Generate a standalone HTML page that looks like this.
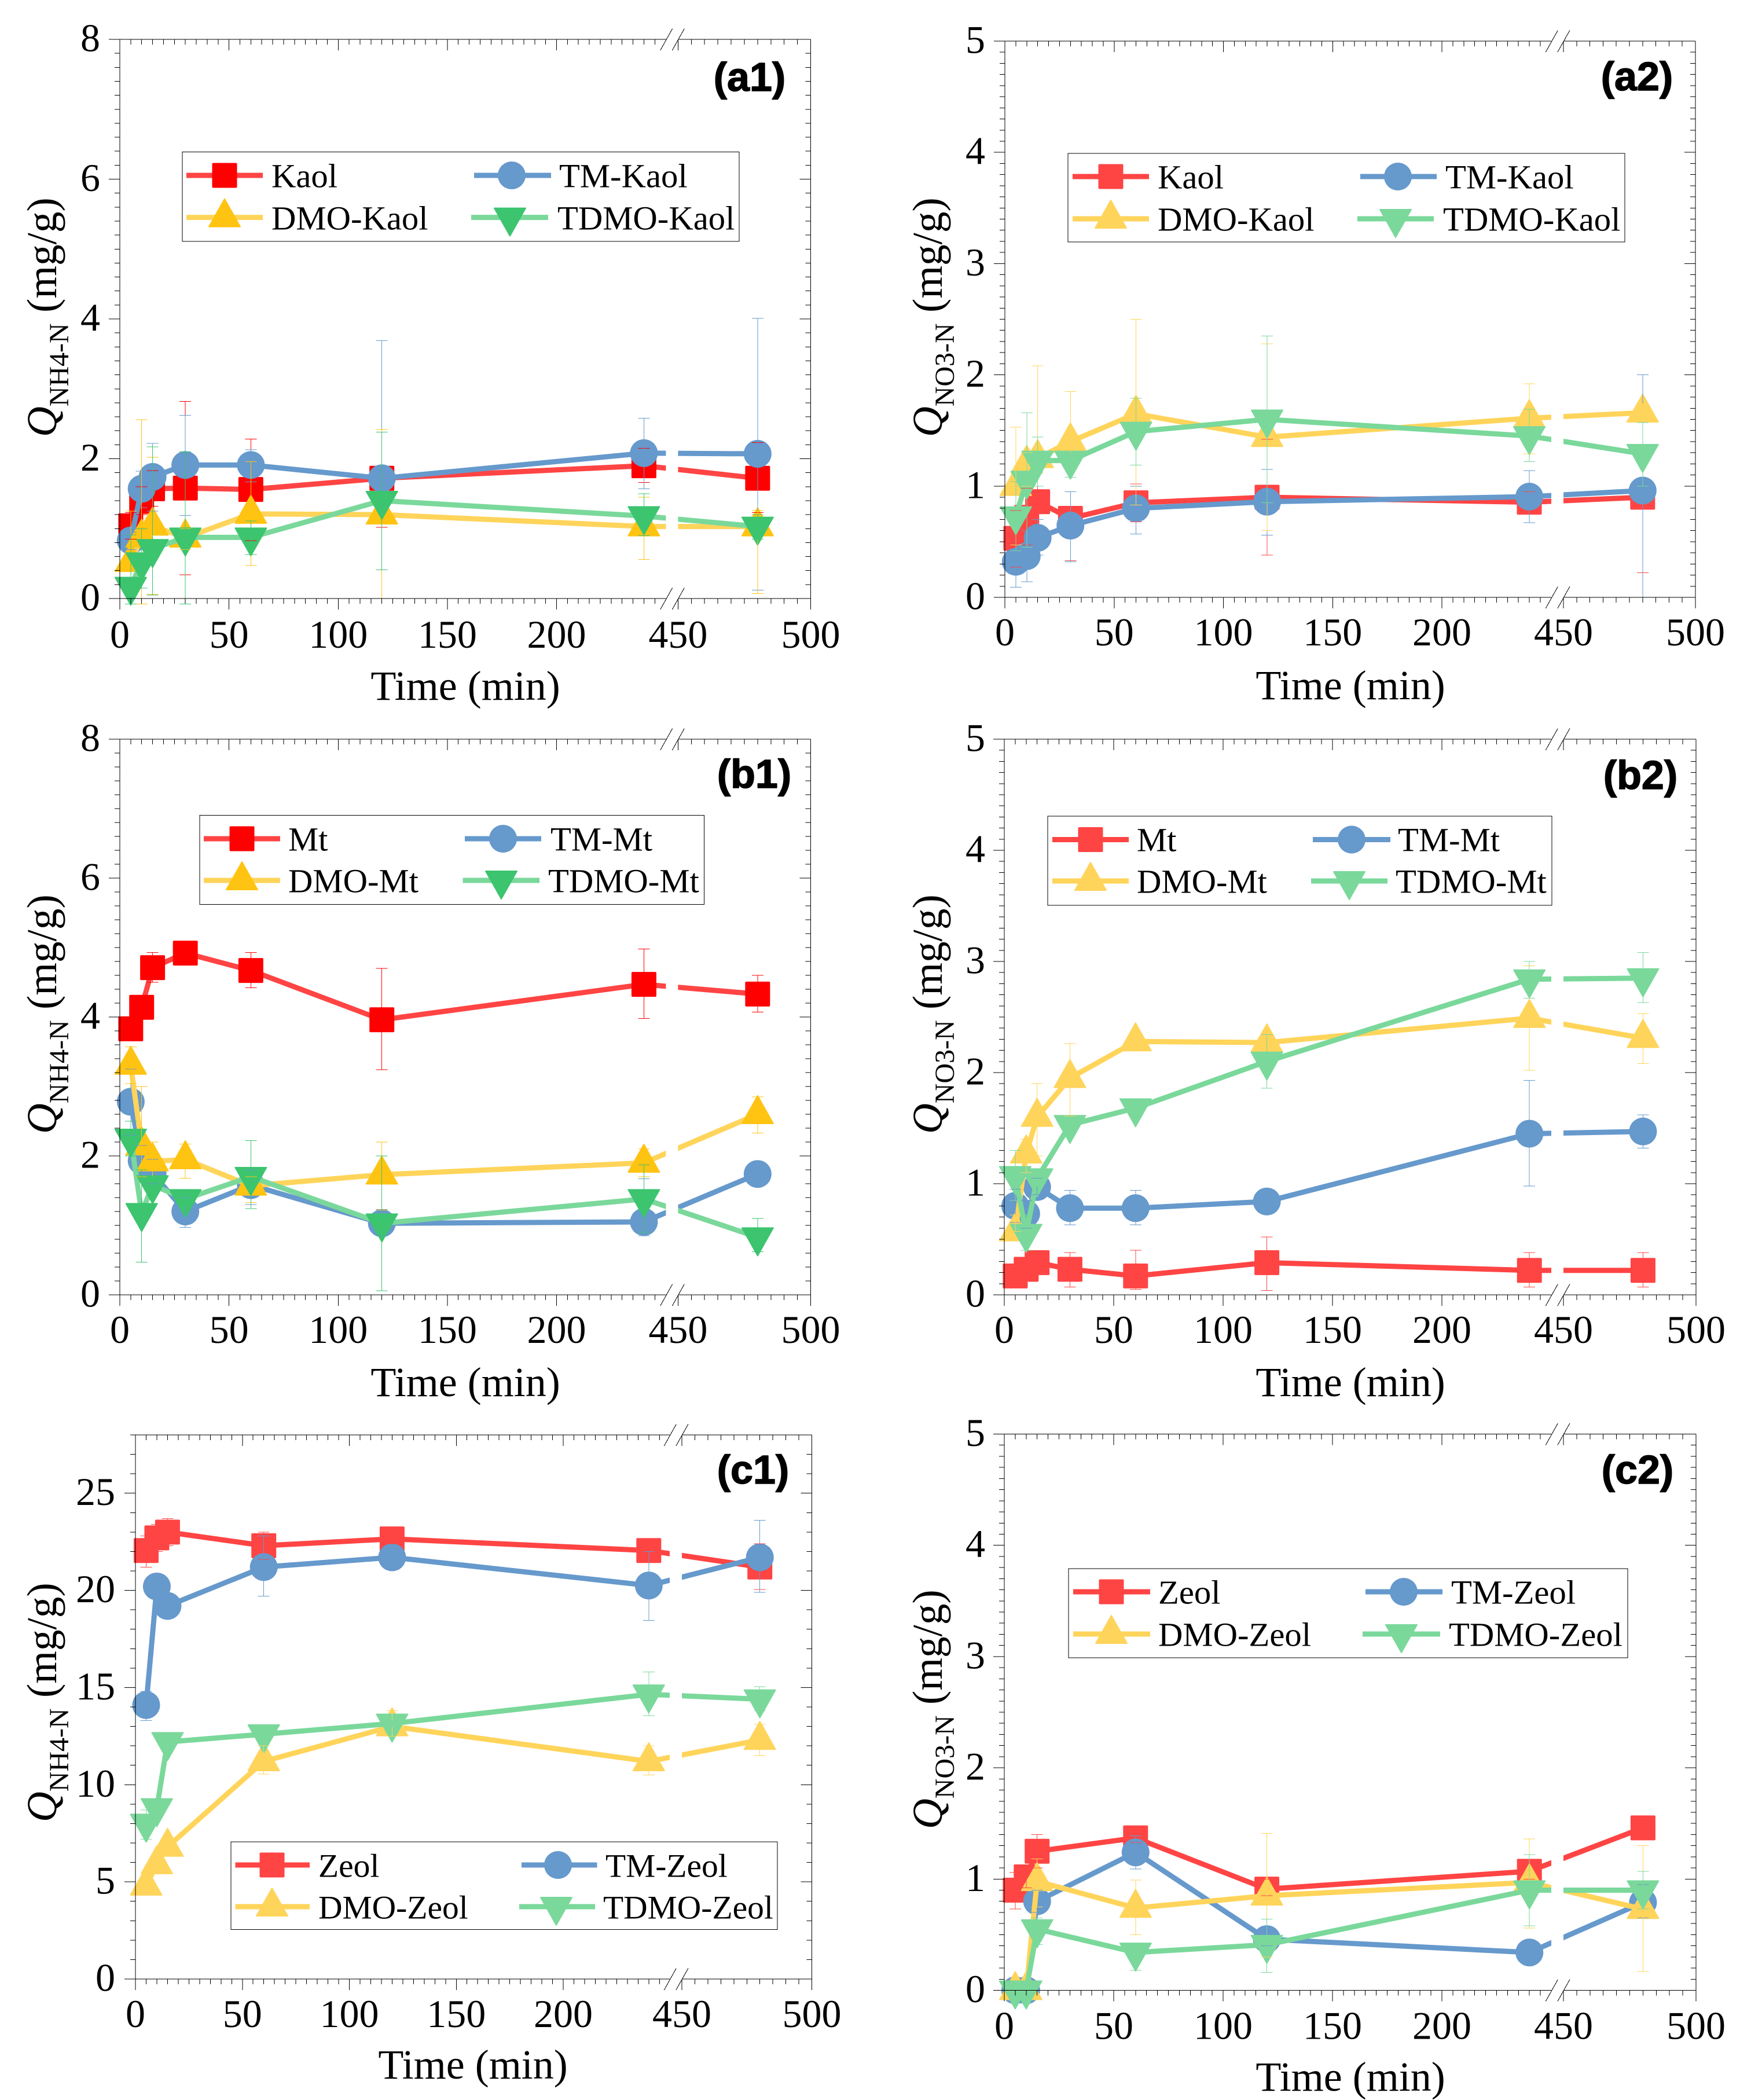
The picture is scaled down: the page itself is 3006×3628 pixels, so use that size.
<!DOCTYPE html>
<html lang="en">
<head>
<meta charset="utf-8">
<title>Adsorption kinetics panels</title>
<style>
html,body{margin:0;padding:0;background:#fff;}
svg{display:block;}
text{font-family:"Liberation Serif",serif;fill:#000;}
.tick{font-size:68px;}
.xt{font-size:72px;text-anchor:middle;transform:translateY(2px);}
.yt{font-size:73px;}
.sub{font-size:48px;}
.lg{font-size:58.7px;transform:translateY(1.5px);}
.lgc{font-size:57.5px;transform:translateY(1.5px);}
.pl{font-family:"Liberation Sans",sans-serif;font-weight:bold;font-size:70px;text-anchor:middle;stroke:#000;stroke-width:1.5px;stroke-linejoin:round;}
</style>
</head>
<body>
<svg id="figure" xmlns="http://www.w3.org/2000/svg" width="3006" height="3628" viewBox="0 0 3006 3628">
<rect width="3006" height="3628" fill="#fff"/>
<g id="marks"></g>

<g>
<text class="pl" x="1295" y="157">(a1)</text>
<text class="xt" x="804" y="1207">Time (min)</text>
<text class="yt" transform="translate(97,755) rotate(-90)"><tspan font-style="italic">Q</tspan><tspan class="sub" dy="21">NH4-N</tspan><tspan dy="-21"> (mg/g)</tspan></text>
<text class="lg" x="469" y="322">Kaol</text>
<text class="lg" x="966" y="322">TM-Kaol</text>
<text class="lg" x="469" y="395">DMO-Kaol</text>
<text class="lg" x="963" y="395">TDMO-Kaol</text>
</g>

<g>
<text class="pl" x="2828" y="156">(a2)</text>
<text class="xt" x="2333" y="1206">Time (min)</text>
<text class="yt" transform="translate(1627,755) rotate(-90)"><tspan font-style="italic">Q</tspan><tspan class="sub" dy="21">NO3-N</tspan><tspan dy="-21"> (mg/g)</tspan></text>
<text class="lg" x="2000" y="324">Kaol</text>
<text class="lg" x="2497" y="324">TM-Kaol</text>
<text class="lg" x="2000" y="397">DMO-Kaol</text>
<text class="lg" x="2493" y="397">TDMO-Kaol</text>
</g>

<g>
<text class="pl" x="1303" y="1361">(b1)</text>
<text class="xt" x="804" y="2410">Time (min)</text>
<text class="yt" transform="translate(97,1959) rotate(-90)"><tspan font-style="italic">Q</tspan><tspan class="sub" dy="21">NH4-N</tspan><tspan dy="-21"> (mg/g)</tspan></text>
<text class="lg" x="498" y="1468">Mt</text>
<text class="lg" x="951" y="1468">TM-Mt</text>
<text class="lg" x="498" y="1540">DMO-Mt</text>
<text class="lg" x="947" y="1540">TDMO-Mt</text>
</g>

<g>
<text class="pl" x="2834" y="1363">(b2)</text>
<text class="xt" x="2333" y="2410">Time (min)</text>
<text class="yt" transform="translate(1627,1959) rotate(-90)"><tspan font-style="italic">Q</tspan><tspan class="sub" dy="21">NO3-N</tspan><tspan dy="-21"> (mg/g)</tspan></text>
<text class="lg" x="1964" y="1469">Mt</text>
<text class="lg" x="2415" y="1469">TM-Mt</text>
<text class="lg" x="1964" y="1541">DMO-Mt</text>
<text class="lg" x="2411" y="1541">TDMO-Mt</text>
</g>

<g>
<text class="pl" x="1301" y="2563">(c1)</text>
<text class="xt" x="817" y="3589">Time (min)</text>
<text class="yt" transform="translate(97,3148) rotate(-90)"><tspan font-style="italic">Q</tspan><tspan class="sub" dy="21">NH4-N</tspan><tspan dy="-21"> (mg/g)</tspan></text>
<text class="lgc" x="550" y="3241">Zeol</text>
<text class="lgc" x="1046" y="3241">TM-Zeol</text>
<text class="lgc" x="550" y="3313">DMO-Zeol</text>
<text class="lgc" x="1042" y="3313">TDMO-Zeol</text>
</g>

<g>
<text class="pl" x="2829" y="2563">(c2)</text>
<text class="xt" x="2333" y="3610">Time (min)</text>
<text class="yt" transform="translate(1627,3160) rotate(-90)"><tspan font-style="italic">Q</tspan><tspan class="sub" dy="21">NO3-N</tspan><tspan dy="-21"> (mg/g)</tspan></text>
<text class="lg" x="2001" y="2769">Zeol</text>
<text class="lg" x="2507" y="2769">TM-Zeol</text>
<text class="lg" x="2001" y="2842">DMO-Zeol</text>
<text class="lg" x="2503" y="2842">TDMO-Zeol</text>
</g>
</svg>

<script>
// ---------- categories and tick labels ----------
const timesAB = [5,10,15,30,60,120,240,480];
const timesC = [5,10,15,60,120,240,480];
const xTickLabels = [0,50,100,150,200,450,500];
const yTicksNH4 = [0,2,4,6,8];
const yTicksNO3 = [0,1,2,3,4,5];
const yTicksC1 = [0,5,10,15,20,25];

// ---------- a1 ----------
const a1Kaol = [1.04,1.39,1.57,1.58,1.56,1.72,1.9,1.72];
const a1KaolHi = [1.23,1.6,1.83,2.82,2.28,2.42,2.15,2.23];
const a1KaolLo = [0.85,1.2,1.32,0.34,0.83,1.02,1.66,1.23];
const a1TM = [0.83,1.57,1.74,1.91,1.91,1.72,2.08,2.07];
const a1TMHi = [0.95,1.82,2.22,2.62,2.13,3.69,2.58,4.01];
const a1TMLo = [0.7,1.3,1.25,1.19,1.67,0,1.57,0.12];
const a1DMO = [0.52,0.87,1.04,0.87,1.21,1.2,1.03,1.03];
const a1DMOHi = [1.25,2.56,2.02,1.0,1.96,2.42,1.45,1.26];
const a1DMOLo = [-0.08,-0.08,0.06,0.7,0.47,0,0.56,0.07];
const a1TDMO = [0.17,0.52,0.71,0.875,0.875,1.4,1.18,1.03];
const a1TDMOHi = [0.91,1.0,2.17,2.1,1.11,2.38,1.5,1.2];
const a1TDMOLo = [-0.08,0.15,0.05,-0.08,0.63,0.41,0.9,0.85];

// ---------- a2 ----------
const a2Kaol = [0.53,0.72,0.86,0.71,0.85,0.9,0.855,0.9];
const a2KaolHi = [0.78,0.98,1.0,0.95,1.02,1.42,0.95,1.58];
const a2KaolLo = [0.27,0.47,0.7,0.33,0.68,0.38,0.78,0.22];
const a2TM = [0.32,0.37,0.535,0.645,0.8,0.86,0.905,0.96];
const a2TMHi = [0.47,0.6,0.7,0.95,1.0,1.15,1.14,2.0];
const a2TMLo = [0.09,0.14,0.38,0.32,0.57,0.56,0.67,0];
const a2DMO = [1.0,1.2,1.25,1.4,1.65,1.44,1.61,1.66];
const a2DMOHi = [1.53,1.3,2.08,1.85,2.5,2.28,1.92,1.74];
const a2DMOLo = [0.47,1.0,1.0,1.08,0.83,0.6,1.29,1.58];
const a2TDMO = [0.73,1.05,1.23,1.23,1.49,1.6,1.45,1.29];
const a2TDMOHi = [1.04,1.66,1.44,1.3,1.79,2.35,1.69,1.57];
const a2TDMOLo = [0.42,0.45,1.0,1.08,1.19,0.85,1.22,1.0];

// ---------- b1 ----------
const b1Mt = [3.83,4.14,4.71,4.92,4.67,3.96,4.47,4.33];
const b1MtHi = [3.93,4.3,4.93,5.0,4.93,4.7,4.98,4.6];
const b1MtLo = [3.73,4.0,4.5,4.8,4.42,3.24,3.98,4.07];
const b1TM = [2.78,1.93,1.75,1.2,1.58,1.03,1.05,1.74];
const b1TMHi = [3.25,2.15,1.95,1.4,1.8,1.23,1.67,1.85];
const b1TMLo = [2.3,1.7,1.6,0.97,1.3,0.85,0.85,1.6];
const b1DMO = [3.31,2.15,1.92,1.95,1.57,1.73,1.9,2.6];
const b1DMOHi = [3.57,3.0,2.2,2.17,1.7,2.2,2.1,2.85];
const b1DMOLo = [3.04,1.7,1.7,1.68,1.33,1.22,1.7,2.33];
const b1TDMO = [2.25,1.18,1.58,1.38,1.7,1.03,1.38,0.83];
const b1TDMOHi = [2.5,1.8,1.7,1.5,2.22,2.0,1.87,1.1];
const b1TDMOLo = [2.0,0.47,1.45,1.28,1.24,0.06,0.9,0.62];

// ---------- b2 ----------
const b2Mt = [0.17,0.23,0.29,0.23,0.17,0.29,0.22,0.22];
const b2MtHi = [0.25,0.3,0.35,0.38,0.4,0.52,0.38,0.38];
const b2MtLo = [0.1,0.15,0.22,0.07,0.05,0.04,0.07,0.07];
const b2TM = [0.8,0.73,0.97,0.78,0.78,0.84,1.45,1.47];
const b2TMHi = [0.95,0.85,1.05,0.94,0.94,0.9,1.93,1.62];
const b2TMLo = [0.65,0.6,0.9,0.63,0.63,0.78,0.98,1.32];
const b2DMO = [0.57,1.27,1.6,1.95,2.28,2.27,2.49,2.31];
const b2DMOHi = [0.72,1.4,1.9,2.26,2.35,2.35,2.96,2.53];
const b2DMOLo = [0.57,1.1,1.25,1.61,2.2,2.2,2.02,2.08];
const b2TDMO = [1.07,0.55,1.05,1.53,1.68,2.1,2.84,2.85];
const b2TDMOHi = [1.3,0.72,1.12,1.6,1.75,2.34,3.0,3.08];
const b2TDMOLo = [0.85,0.4,0.98,1.45,1.6,1.86,2.67,2.63];

// ---------- c1 ----------
const c1Zeol = [22.05,22.7,23.0,22.3,22.65,22.05,21.2];
const c1ZeolHi = [22.8,23.4,23.7,23.0,22.9,22.3,22.4];
const c1ZeolLo = [21.2,22.0,22.3,21.6,22.4,21.8,20.05];
const c1TM = [14.1,20.2,19.2,21.2,21.7,20.25,21.7];
const c1TMHi = [14.8,20.5,19.5,22.8,21.9,22.0,23.6];
const c1TMLo = [13.3,19.9,18.9,19.7,21.5,18.45,19.9];
const c1DMO = [4.8,5.9,6.8,11.2,13.0,11.2,12.3];
const c1DMOHi = [5.0,6.1,7.0,12.0,13.8,12.0,13.1];
const c1DMOLo = [4.6,5.7,6.6,10.55,12.5,10.5,11.5];
const c1TDMO = [8.0,8.8,12.2,12.6,13.15,14.65,14.4];
const c1TDMOHi = [8.7,9.0,12.4,12.8,13.3,15.8,15.05];
const c1TDMOLo = [7.2,8.6,12.0,12.4,13.0,13.55,13.8];

// ---------- c2 ----------
const c2Zeol = [0.9,1.02,1.25,1.37,0.91,1.07,1.46];
const c2ZeolHi = [1.06,1.12,1.4,1.4,1.0,1.22,1.5];
const c2ZeolLo = [0.73,0.92,1.1,1.33,0.85,1.0,1.42];
const c2TM = [0,0,0.8,1.24,0.46,0.34,0.79];
const c2TMHi = [0,0,0.9,1.39,0.55,0.38,0.95];
const c2TMLo = [0,0,0.7,1.09,0.4,0.3,0.65];
const c2DMO = [0,0,0.98,0.74,0.85,0.97,0.73];
const c2DMOHi = [0,0,1.18,0.99,1.41,1.36,1.3];
const c2DMOLo = [0,0,0.75,0.5,0.3,0.56,0.17];
const c2TDMO = [0,0,0.55,0.34,0.41,0.9,0.9];
const c2TDMOHi = [0,0,0.65,0.38,0.64,1.22,1.07];
const c2TDMOLo = [0,0,0.41,0.18,0.16,0.58,0.73];

// ---------- styles ----------
const LINE = {red:'#FF4444',blue:'#6699CC',yellow:'#FFD45A',green:'#7AD89B'};
const DARK = {red:'#FF0000',blue:'#6699CC',yellow:'#FFC312',green:'#3CC46F'};
const KINDS = ['square','circle','up','down'];
const COLS = ['red','blue','yellow','green'];
const THIN = 1;

const panels = [
 {id:'a1',L:207,R:1400.5,x200:961.5,x450:1171.4,T:68,B:1034,yMax:8,minor:0.2,ticks:yTicksNH4,labX:173,lblDy:85,dark:true,times:timesAB,
  names:['Kaol','TM-Kaol','DMO-Kaol','TDMO-Kaol'],
  v:[a1Kaol,a1TM,a1DMO,a1TDMO],hi:[a1KaolHi,a1TMHi,a1DMOHi,a1TDMOHi],lo:[a1KaolLo,a1TMLo,a1DMOLo,a1TDMOLo],
  lg:{l:315,r:1277,t:262.5,b:417,y1:303,y2:375.6,c1:[322,454,388],c2a:[819,952,884],c2b:[814,947,881]}},
 {id:'a2',L:1736,R:2929,x200:2491,x450:2701,T:71,B:1032,yMax:5,minor:0.1,ticks:yTicksNO3,labX:1702,lblDy:83,dark:false,times:timesAB,
  names:['Kaol','TM-Kaol','DMO-Kaol','TDMO-Kaol'],
  v:[a2Kaol,a2TM,a2DMO,a2TDMO],hi:[a2KaolHi,a2TMHi,a2DMOHi,a2TDMOHi],lo:[a2KaolLo,a2TMLo,a2DMOLo,a2TDMOLo],
  lg:{l:1845,r:2807,t:265,b:418,y1:305,y2:378,c1:[1853,1985,1919],c2a:[2350,2482,2415],c2b:[2345,2477,2411]}},
 {id:'b1',L:207,R:1400.5,x200:961.5,x450:1171.4,T:1277,B:2237,yMax:8,minor:0.2,ticks:yTicksNH4,labX:173,lblDy:83,dark:true,times:timesAB,
  names:['Mt','TM-Mt','DMO-Mt','TDMO-Mt'],
  v:[b1Mt,b1TM,b1DMO,b1TDMO],hi:[b1MtHi,b1TMHi,b1DMOHi,b1TDMOHi],lo:[b1MtLo,b1TMLo,b1DMOLo,b1TDMOLo],
  lg:{l:345,r:1216.5,t:1408.5,b:1562.6,y1:1449,y2:1521,c1:[352,484,418],c2a:[803,935,869],c2b:[799.5,932,866]}},
 {id:'b2',L:1735,R:2930,x200:2491,x450:2701,T:1277,B:2237,yMax:5,minor:0.1,ticks:yTicksNO3,labX:1702,lblDy:83,dark:false,times:timesAB,
  names:['Mt','TM-Mt','DMO-Mt','TDMO-Mt'],
  v:[b2Mt,b2TM,b2DMO,b2TDMO],hi:[b2MtHi,b2TMHi,b2DMOHi,b2TDMOHi],lo:[b2MtLo,b2TMLo,b2DMOLo,b2TDMOLo],
  lg:{l:1810,r:2681,t:1410,b:1564,y1:1450.5,y2:1522,c1:[1818,1950,1884],c2a:[2268,2402,2335],c2b:[2265,2397,2331]}},
 {id:'c1',L:234,R:1402.5,x200:973,x450:1178,T:2479,B:3419,yMax:28,minor:1,ticks:yTicksC1,labX:199,lblDy:83,dark:false,times:timesC,
  names:['Zeol','TM-Zeol','DMO-Zeol','TDMO-Zeol'],
  v:[c1Zeol,c1TM,c1DMO,c1TDMO],hi:[c1ZeolHi,c1TMHi,c1DMOHi,c1TDMOHi],lo:[c1ZeolLo,c1TMLo,c1DMOLo,c1TDMOLo],
  lg:{l:399,r:1343,t:3182,b:3333.5,y1:3222,y2:3294,c1:[406.5,535,470],c2a:[901,1031.5,964],c2b:[897,1028,961]}},
 {id:'c2',L:1735,R:2930,x200:2491,x450:2701,T:2477.5,B:3438.5,yMax:5,minor:0.1,ticks:yTicksNO3,labX:1702,lblDy:84,dark:false,times:timesC,
  names:['Zeol','TM-Zeol','DMO-Zeol','TDMO-Zeol'],
  v:[c2Zeol,c2TM,c2DMO,c2TDMO],hi:[c2ZeolHi,c2TMHi,c2DMOHi,c2TDMOHi],lo:[c2ZeolLo,c2TMLo,c2DMOLo,c2TDMOLo],
  lg:{l:1846,r:2812,t:2710,b:2864,y1:2750,y2:2823,c1:[1854,1987,1920],c2a:[2359,2492,2425],c2b:[2354,2488,2421]}}
];

const NS = 'http://www.w3.org/2000/svg';
const root = document.getElementById('marks');
function make(tag, attrs, parent){
  const el = document.createElementNS(NS, tag);
  for (const k in attrs) el.setAttribute(k, attrs[k]);
  parent.appendChild(el);
  return el;
}
function line(parent, x1, y1, x2, y2, stroke, w, name){
  const el = make('line', {x1:x1,y1:y1,x2:x2,y2:y2,stroke:stroke,'stroke-width':w,'shape-rendering':w === THIN ? 'crispEdges' : 'auto'}, parent);
  
  
  return el;
}
function marker(parent, kind, cx, cy, fill, name){
  let el;
  if (kind === 'square') {
    el = make('rect', {x:cx-20.5,y:cy-20.5,width:41,height:41,rx:1,fill:fill,stroke:fill,'stroke-width':2,'stroke-linejoin':'round'}, parent);
  } else if (kind === 'circle') {
    el = make('circle', {cx:cx,cy:cy,r:24,fill:fill}, parent);
  } else if (kind === 'up') {
    el = make('polygon', {points:[[cx,cy-32],[cx+27,cy+16],[cx-27,cy+16]].join(' '),fill:fill,stroke:fill,'stroke-width':2,'stroke-linejoin':'round'}, parent);
  } else {
    el = make('polygon', {points:[[cx,cy+32],[cx+27,cy-16],[cx-27,cy-16]].join(' '),fill:fill,stroke:fill,'stroke-width':2,'stroke-linejoin':'round'}, parent);
  }
  
  
  return el;
}

panels.forEach(function(p){
  const s1 = (p.x200 - p.L) / 200;
  const s2 = (p.R - p.x450) / 50;
  const xOf = function(t){ return t <= 250 ? p.L + t * s1 : p.x450 + (t - 450) * s2; };
  const yOf = function(v){ return p.B - (v / p.yMax) * (p.B - p.T); };
  const palette = p.dark ? DARK : LINE;

  const g = make('g', {}, root);
  
  

  // series lines and markers
  p.v.forEach(function(vals, i){
    const col = COLS[i];
    const sg = make('g', {}, g);
    
    
    const pl = make('polyline', {points:vals.map(function(v,k){return xOf(p.times[k])+','+yOf(v);}).join(' '),fill:'none',stroke:LINE[col],'stroke-width':9,'stroke-linejoin':'round'}, sg);
    
    
    vals.forEach(function(v,k){
      marker(sg, KINDS[i], xOf(p.times[k]), yOf(v), palette[col], 'point-' + p.id + '-' + p.names[i].toLowerCase() + '-' + p.times[k]);
    });
  });

  // error bars on top of the markers
  p.v.forEach(function(vals, i){
    const col = palette[COLS[i]];
    vals.forEach(function(v,k){
      const h = p.hi[i][k], l = p.lo[i][k];
      if (h === l) return;
      const x = xOf(p.times[k]);
      const eg = make('g', {}, g);
      
      
      line(eg, x, yOf(h), x, yOf(l), col, THIN, 'error-stem');
      line(eg, x-10, yOf(h), x+10, yOf(h), col, THIN, 'error-cap-high');
      line(eg, x-10, yOf(l), x+10, yOf(l), col, THIN, 'error-cap-low');
    });
  });

  // white gap at the axis break
  const gap = make('rect', {x:p.x450-21,y:p.T-1,width:21,height:p.B-p.T+2,fill:'#fff'}, g);
  
  

  // axes
  const ax = make('g', {}, g);
  
  
  const K = '#000';
  line(ax, p.L, p.T, p.L, p.B, K, THIN, 'y-axis-left');
  line(ax, p.R, p.T, p.R, p.B, K, THIN, 'y-axis-right');
  [p.T, p.B].forEach(function(y){
    const nm = y === p.T ? 'x-axis-top' : 'x-axis-bottom';
    line(ax, p.L, y, p.x450-21, y, K, THIN, nm + '-lower');
    line(ax, p.x450, y, p.R, y, K, THIN, nm + '-upper');
    line(ax, p.x450-30.7, y+19, p.x450-9.7, y-18.5, K, THIN, 'axis-break-slash');
    line(ax, p.x450-10.1, y+19, p.x450+10.9, y-18.5, K, THIN, 'axis-break-slash');
  });
  // x ticks
  const xTick = function(t){
    const major = t % 50 === 0;
    const len = major ? 19 : 9;
    const x = xOf(t);
    line(ax, x, p.B, x, p.B+len, K, THIN, 'x-tick-bottom');
    line(ax, x, p.T, x, p.T+len, K, THIN, 'x-tick-top');
  };
  for (let t = 0; t <= 245; t += 5) xTick(t);
  for (let t = 450; t <= 500; t += 5) xTick(t);
  // y ticks
  const nMinor = Math.round(p.yMax / p.minor);
  for (let n = 0; n <= nMinor; n++) {
    const v = n * p.minor;
    const major = p.ticks.some(function(m){ return Math.abs(m - v) < 1e-6; });
    const len = major ? 19 : 9;
    const y = yOf(v);
    line(ax, p.L-len, y, p.L, y, K, THIN, 'y-tick-left');
    line(ax, p.R-len, y, p.R, y, K, THIN, 'y-tick-right');
  }
  // tick labels
  xTickLabels.forEach(function(t){
    const el = make('text', {class:'tick',x:xOf(t),y:p.B+p.lblDy,'text-anchor':'middle'}, ax);
    el.textContent = String(t);
    
    
  });
  p.ticks.forEach(function(v){
    const el = make('text', {class:'tick',x:p.labX,y:yOf(v)+20.5,'text-anchor':'end'}, ax);
    el.textContent = String(v);
    
    
  });

  // legend box and swatches
  const L = p.lg;
  const lg = make('g', {}, g);
  
  
  const box = make('rect', {x:L.l,y:L.t,width:L.r-L.l,height:L.b-L.t,fill:'#fff',stroke:'#000','stroke-width':THIN,'shape-rendering':'crispEdges'}, lg);
  
  
  [[L.c1,L.y1],[L.c2a,L.y1],[L.c1,L.y2],[L.c2b,L.y2]].forEach(function(e, i){
    const col = COLS[i];
    line(lg, e[0][0], e[1], e[0][1], e[1], LINE[col], 9, 'legend-line-' + p.names[i].toLowerCase());
    marker(lg, KINDS[i], e[0][2], e[1], palette[col], 'legend-marker-' + p.names[i].toLowerCase());
  });
});
</script>
</body>
</html>
